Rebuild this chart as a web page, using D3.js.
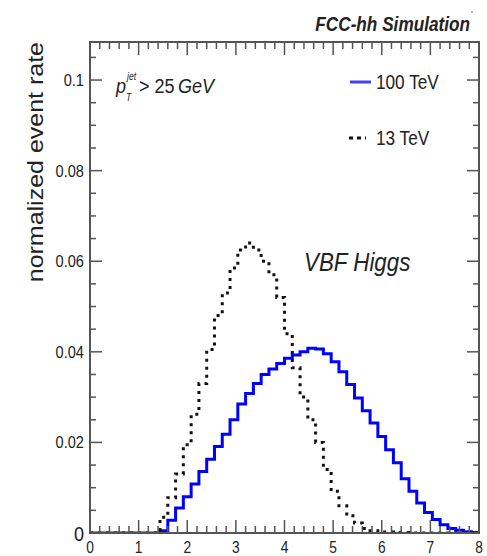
<!DOCTYPE html>
<html><head><meta charset="utf-8">
<script src="https://cdn.jsdelivr.net/npm/d3@7"></script>
<style>body{margin:0;background:#fff}svg{display:block}text{font-family:"Liberation Sans",Arial,sans-serif;fill:#222}</style>
</head><body>
<script>
const binEdgesStart = 0, binWidth = 0.16, nBins = 50;
const series100 = [0,0,0,0,0,0,0,0,0,0.0005,0.0028,0.0055,0.0080,0.0108,0.0136,0.0163,0.0191,0.0218,0.0250,0.0285,0.0308,0.0330,0.0350,0.0362,0.0374,0.0386,0.0393,0.0400,0.0408,0.0406,0.0396,0.0378,0.0356,0.0328,0.0298,0.0270,0.0243,0.0213,0.0184,0.0155,0.0120,0.0092,0.0066,0.0045,0.0030,0.0018,0.0010,0.0006,0.0003,0.0001];
const series13 = [0,0,0,0,0,0,0,0,0,0.0035,0.0078,0.0130,0.0195,0.0262,0.0330,0.0405,0.0480,0.0530,0.0585,0.0625,0.0640,0.0625,0.0600,0.0570,0.0520,0.0440,0.0365,0.0300,0.0250,0.0200,0.0140,0.0092,0.0060,0.0038,0.0022,0.0010,0.0005,0.0002,0.0002,0.0001,0.0001,0,0,0,0,0,0,0,0,0];
const xTicks = [0,1,2,3,4,5,6,7,8];
const yTicks = [0,0.02,0.04,0.06,0.08,0.1];
const yTickLabels = ["0","0.02","0.04","0.06","0.08","0.1"];
const legendLabels = ["100 TeV","13 TeV"];

const W=487,H=556;
const svg=d3.select("body").append("svg").attr("width",W).attr("height",H);
const L=90,R=479,T=42,B=533;
const x=d3.scaleLinear().domain([0,8]).range([L,R]);
const y=d3.scaleLinear().domain([0,0.1084]).range([B,T]);
const SX=0.86;
function txt(px,py,s,size,anchor,style){
  const t=svg.append("text").attr("transform",`translate(${px},${py}) scale(${SX},1)`)
    .attr("font-size",size).attr("text-anchor",anchor||"start").text(s);
  if(style) t.attr("font-style",style);
  return t;
}
svg.append("clipPath").attr("id","c").append("rect").attr("x",L).attr("y",T).attr("width",R-L).attr("height",B-T);

function pts(vals){
  const p=vals.map((v,i)=>[binEdgesStart+i*binWidth,v]);
  p.push([binEdgesStart+nBins*binWidth,vals[vals.length-1]]);
  return p;
}
const line=d3.line().x(d=>x(d[0])).y(d=>y(d[1])).curve(d3.curveStepAfter);
const g=svg.append("g").attr("clip-path","url(#c)");
g.append("path").attr("d",line(pts(series100))).attr("fill","none").attr("stroke","#0000ff").attr("stroke-width",3);
g.append("path").attr("d",line(pts(series13))).attr("fill","none").attr("stroke","#111").attr("stroke-width",3).attr("stroke-dasharray","3,5");

// frame
const ax=svg.append("g").attr("stroke","#555").attr("fill","none");
ax.append("rect").attr("x",L).attr("y",T).attr("width",R-L).attr("height",B-T).attr("stroke-width",2);
const xMinor=d3.range(0,8.001,0.2);
xMinor.forEach(v=>{
  const major=Math.abs(v-Math.round(v))<1e-6;
  const len=major?13:7;
  ax.append("line").attr("x1",x(v)).attr("x2",x(v)).attr("y1",B).attr("y2",B-len).attr("stroke-width",1.5);
  ax.append("line").attr("x1",x(v)).attr("x2",x(v)).attr("y1",T).attr("y2",T+len).attr("stroke-width",1.5);
});
const yMinor=d3.range(0,0.108,0.005);
yMinor.forEach(v=>{
  const major=Math.abs(v/0.02-Math.round(v/0.02))<1e-6;
  const len=major?12:6;
  ax.append("line").attr("x1",L).attr("x2",L+len).attr("y1",y(v)).attr("y2",y(v)).attr("stroke-width",1.5);
  ax.append("line").attr("x1",R).attr("x2",R-len).attr("y1",y(v)).attr("y2",y(v)).attr("stroke-width",1.5);
});
xTicks.forEach(v=>txt(x(v),553,String(v),16,"middle"));
yTicks.forEach((v,i)=>txt(L-6,y(v)+(i===0?8:6),yTickLabels[i],i===0?21:17,"end"));

// y title
svg.append("text").attr("transform",`translate(43,42) rotate(-90) scale(1,0.9)`)
  .attr("font-size",25).attr("text-anchor","end").text("normalized event rate");

// title
svg.append("text").attr("transform",`translate(470,31) scale(${SX},1)`).attr("font-size",20)
  .attr("font-weight","bold").attr("font-style","italic").attr("text-anchor","end").text("FCC-hh Simulation");
svg.append("circle").attr("cx",472).attr("cy",12).attr("r",1).attr("fill","#999");

// cut label
txt(116,93,"p",21,"start","italic");
txt(127,80,"jet",10,"start","italic");
txt(126,101,"T",10,"start","italic");
txt(139,93,"> 25 ",21,"start");
txt(178,93,"GeV",21,"start","italic");

// legend
svg.append("line").attr("x1",350).attr("x2",371).attr("y1",82).attr("y2",82).attr("stroke","#4040ff").attr("stroke-width",3);
txt(376,89,legendLabels[0],20,"start");
svg.append("line").attr("x1",349).attr("x2",366).attr("y1",138).attr("y2",138).attr("stroke","#111").attr("stroke-width",3).attr("stroke-dasharray","4,4");
txt(376,145,legendLabels[1],20,"start");

// VBF Higgs
txt(304,271,"VBF Higgs",26,"start","italic");
</script>
</body></html>
